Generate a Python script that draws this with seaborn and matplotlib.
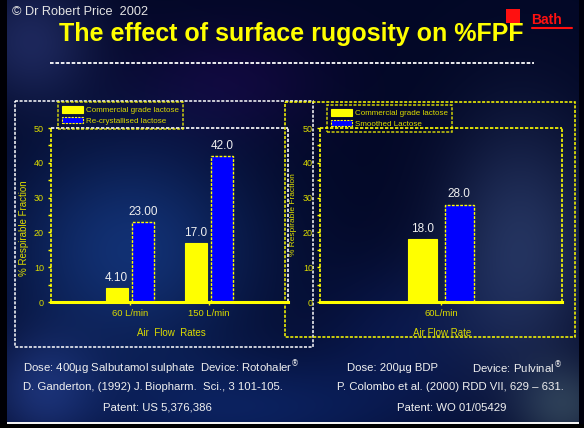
import numpy as np
import pandas as pd
import matplotlib
matplotlib.use("Agg")
import matplotlib.pyplot as plt
import seaborn as sns
from matplotlib.patches import Rectangle, Patch
from matplotlib.ticker import MultipleLocator

# ---------------- data ----------------
flow_rates_a = ["60 L/min", "150 L/min"]
commercial_a = [4.10, 17.0]
recrystallised_a = [23.00, 42.0]
decimals_a = [2, 1]            # printed precision for each flow rate

flow_rates_b = ["60L/min"]
commercial_b = [18.0]
smoothed_b = [28.0]
decimals_b = [1]

series_a = ["Commercial grade lactose", "Re-crystallised lactose"]
series_b = ["Commercial grade lactose", "Smoothed Lactose"]
y_ticks = [0, 10, 20, 30, 40, 50]

# ---------------- styling ----------------
W, H = 584, 428
YELLOW = "#ffff00"
BLUE = "#0000ff"
TXT_YEL = "#dcdc00"
WHITE = "#f0f0f0"
DASH = (0, (2, 1))

sns.set_style("white")
plt.rcParams["font.family"] = ["Liberation Sans", "DejaVu Sans"]

fig = plt.figure(figsize=(W / 100, H / 100), dpi=100)

# slide backdrop (pixel coordinates, y downwards)
yy, xx = np.mgrid[0:H, 0:W].astype(float)


def glow(cx, cy, sx, sy):
    return np.exp(-0.5 * (((xx - cx) / sx) ** 2 + ((yy - cy) / sy) ** 2))[..., None]


img = np.zeros((H, W, 3)) + np.array([0.01, 0.03, 0.15])
img += glow(130, 250, 90, 80) * np.array([0.06, 0.16, 0.30])
img += glow(250, 410, 130, 40) * np.array([0.03, 0.09, 0.20])
img += glow(520, 250, 55, 90) * np.array([0.13, 0.17, 0.22])
img += glow(30, 40, 45, 45) * np.array([0.10, 0.12, 0.20])
img += glow(40, 390, 40, 40) * np.array([0.08, 0.12, 0.22])
img += glow(565, 405, 35, 30) * np.array([0.14, 0.18, 0.14])
img += glow(230, 80, 70, 40) * np.array([0.05, 0.00, 0.08])
img += glow(400, 330, 60, 50) * np.array([0.02, 0.05, 0.12])
img = np.clip(img, 0, 1)
img[:, :7] = [0.0, 0.0, 0.02]
img[:, 579:] = [0.0, 0.0, 0.05]
img[422:424, 7:579] = 0.95
img[424:, :] = 0.0

bg = fig.add_axes([0, 0, 1, 1])
bg.imshow(img, extent=(0, W, H, 0), aspect="auto", interpolation="bilinear")
bg.set_xlim(0, W)
bg.set_ylim(H, 0)
bg.axis("off")

# header
bg.text(12, 12, "\u00a9 Dr Robert Price  2002", color="#e4e4e4", fontsize=9.2,
        ha="left", va="center")
bg.text(291.5, 41, "The effect of surface rugosity on %FPF", color=YELLOW,
        fontsize=18, fontweight="bold", ha="center", va="baseline")
bg.plot([50, 534], [63, 63], color="white", lw=1.3, linestyle=DASH,
        solid_capstyle="butt", dash_capstyle="butt")
bg.add_patch(Rectangle((506, 9), 14, 14, facecolor="#ff1010", edgecolor="none"))
bg.text(546, 24, "Bath", color="#ff1010", fontsize=10, fontweight="bold",
        ha="center", va="baseline")
bg.plot([532, 572], [28, 28], color="#ff1010", lw=1.5)

# frames around the two panels
bg.add_patch(Rectangle((15, 101), 298, 246, fill=False, edgecolor="white",
                       lw=1.1, linestyle=DASH))
bg.add_patch(Rectangle((285, 102), 290, 235, fill=False, edgecolor=YELLOW,
                       lw=1.1, linestyle=DASH))

# footer references
fs = 8.2
bg.text(23, 368, "Dose: 400\u00b5g Salbutamol sulphate  Device: Rotohaler$^{\u00ae}$",
        color=WHITE, fontsize=fs, ha="left", va="center")
bg.text(23, 387, "D. Ganderton, (1992) J.\u2009Biopharm.  Sci., 3 101-105.",
        color=WHITE, fontsize=fs, ha="left", va="center")
bg.text(157, 408, "Patent: US 5,376,386", color=WHITE, fontsize=fs,
        ha="center", va="center")
bg.text(347, 368, "Dose: 200\u00b5g BDP", color=WHITE, fontsize=fs,
        ha="left", va="center")
bg.text(562, 368, "Device: Pulvinal$^{\u00ae}$", color=WHITE, fontsize=fs,
        ha="right", va="center")
bg.text(564, 387, "P. Colombo et al. (2000) RDD VII, 629 \u2013 631.", color=WHITE,
        fontsize=fs, ha="right", va="center")
bg.text(452, 408, "Patent: WO 01/05429", color=WHITE, fontsize=fs,
        ha="center", va="center")


def px_axes(x0, y0, x1, y1):
    return fig.add_axes([x0 / W, 1 - y1 / H, (x1 - x0) / W, (y1 - y0) / H])


def style_axes(ax, dashed_sides, white_sides, xlabel, xlabel_x, ylabel_xy):
    ax.set_facecolor("none")
    ax.set_ylim(0, 50)
    ax.set_yticks(y_ticks)
    ax.yaxis.set_minor_locator(MultipleLocator(5))
    for side in dashed_sides:
        ax.spines[side].set(visible=True, color=YELLOW, linestyle=DASH,
                            linewidth=1.2, capstyle="butt")
    for side in white_sides:
        ax.spines[side].set(visible=True, color="white", linestyle=DASH,
                            linewidth=1.2, capstyle="butt")
    ax.spines["bottom"].set(visible=True, color=YELLOW, linewidth=2.2)
    ax.tick_params(axis="y", which="major", length=2.5, width=1, color=YELLOW,
                   labelcolor=TXT_YEL, labelsize=6.5, pad=2.5, direction="out", left=True)
    ax.tick_params(axis="y", which="minor", length=2, width=1, color=YELLOW,
                   direction="out", left=True)
    ax.tick_params(axis="x", length=2.5, width=1, color=YELLOW, labelcolor=TXT_YEL,
                   labelsize=6.8, pad=2.8, direction="out", bottom=True)
    ax.set_xlabel(xlabel, color=TXT_YEL, fontsize=7)
    ax.xaxis.set_label_coords(xlabel_x, -0.147)
    ax.set_ylabel("% Respirable Fraction", color=TXT_YEL, fontsize=7)
    ax.yaxis.set_label_coords(*ylabel_xy)
    ax.yaxis.label.set_va("center")
    ax.grid(False)


def add_legend(ax, labels, x, y):
    handles = [Patch(facecolor=YELLOW, edgecolor=YELLOW, linewidth=0.8),
               Patch(facecolor=BLUE, edgecolor=YELLOW, linestyle=DASH, linewidth=0.8)]
    leg = ax.legend(handles, labels, loc="upper left", bbox_to_anchor=(x / W, 1 - y / H),
                    bbox_transform=fig.transFigure, fontsize=5.8, frameon=True,
                    fancybox=False, borderpad=0.55, handlelength=2.5, handleheight=0.85,
                    handletextpad=0.4, labelspacing=0.3, borderaxespad=0)
    frame = leg.get_frame()
    frame.set_facecolor("none")
    frame.set_edgecolor(YELLOW)
    frame.set_linestyle(DASH)
    frame.set_linewidth(1.1)
    for t in leg.get_texts():
        t.set_color(TXT_YEL)
    leg.set_zorder(5)


def draw_bars(ax, flows, first, second, labels, decimals, width, gap):
    df = pd.DataFrame({
        "flow": flows * 2,
        "fpf": list(first) + list(second),
        "lactose": [labels[0]] * len(flows) + [labels[1]] * len(flows),
    })
    sns.barplot(data=df, x="flow", y="fpf", hue="lactose", palette=[YELLOW, BLUE],
                width=width, gap=gap, saturation=1, errorbar=None, legend=False, ax=ax)
    for bar in ax.containers[0]:
        bar.set_edgecolor(YELLOW)
        bar.set_linewidth(0.8)
    for bar in ax.containers[1]:
        bar.set_edgecolor(YELLOW)
        bar.set_linestyle(DASH)
        bar.set_linewidth(1.0)
    for cont, vals in zip(ax.containers, [first, second]):
        ax.bar_label(cont, labels=[f"{v:.{d}f}" for v, d in zip(vals, decimals)],
                     padding=3, color=WHITE, fontsize=8.5)


# left panel: Rotohaler
ax1 = px_axes(51, 128, 288, 302)
draw_bars(ax1, flow_rates_a, commercial_a, recrystallised_a, series_a, decimals_a,
          width=0.68, gap=0.18)
ax1.set_xlim(-1, 2)
style_axes(ax1, ["left"], ["top", "right"], "Air  Flow  Rates", 0.506, (-0.114, 0.425))
add_legend(ax1, series_a, 58, 102)

# right panel: Pulvinal
ax2 = px_axes(320, 128, 562, 302)
draw_bars(ax2, flow_rates_b, commercial_b, smoothed_b, series_b, decimals_b,
          width=0.6, gap=0.2)
ax2.set_xlim(-1, 1)
style_axes(ax2, ["left", "top", "right"], [], "Air Flow Rate", 0.504, (-0.11, 0.5))
ax2.yaxis.label.set_fontsize(6)
add_legend(ax2, series_b, 327, 105)

fig.savefig("out.png", dpi=100)
